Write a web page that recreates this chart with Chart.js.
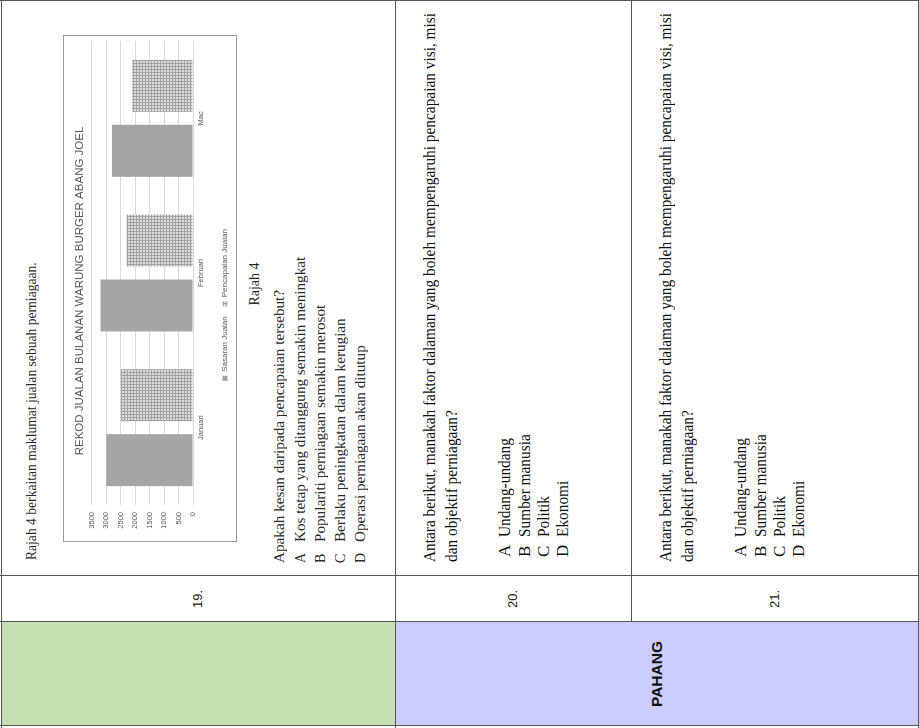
<!DOCTYPE html>
<html>
<head>
<meta charset="utf-8">
<script src="https://cdn.jsdelivr.net/npm/chart.js@4.4.1/dist/chart.umd.min.js"></script>
<style>
html,body{margin:0;padding:0;background:#fff;overflow:hidden;width:919px;height:728px;}
#page{position:absolute;left:0;top:0;width:728px;height:919px;transform-origin:0 0;transform:translate(0,728px) rotate(-90deg);background:#fff;font-family:"Liberation Serif","Times New Roman",serif;color:#1c1c1c;}
.box{position:absolute;box-sizing:border-box;}
.hl{position:absolute;height:1px;background:#555;}
.vl{position:absolute;width:1px;background:#555;}
.t{position:absolute;white-space:nowrap;line-height:20px;height:20px;transform-origin:0 50%;}
.q19{font-size:14px;color:#2a2a2a;}
.q2x{font-size:17px;color:#111;}
.num{position:absolute;left:106px;width:46px;text-align:center;font-family:"Liberation Sans",Arial,sans-serif;font-size:13px;line-height:18px;color:#222;}
#chartBox{position:absolute;left:186px;top:63px;width:507px;height:174px;box-sizing:border-box;border:1px solid #9a9a9a;background:#fff;}
#chartBox canvas{position:absolute;left:0;top:0;}
</style>
</head>
<body>
<div id="page">
  <!-- state column -->
  <div class="box" style="left:2px;top:1px;width:104px;height:394px;background:#c6e0b4;"></div>
  <div class="box" style="left:2px;top:395px;width:104px;height:523px;background:#ccccff;"></div>
  <div style="position:absolute;left:2px;width:104px;top:647px;text-align:center;font-family:'Liberation Sans',Arial,sans-serif;font-weight:bold;font-size:15.5px;line-height:20px;color:#111;">PAHANG</div>

  <!-- grid lines of the table -->
  <div class="hl" style="left:0;top:1px;width:728px;"></div>
  <div class="hl" style="left:0;top:395px;width:728px;"></div>
  <div class="hl" style="left:106px;top:631px;width:622px;"></div>
  <div class="hl" style="left:0;top:918px;width:728px;"></div>
  <div class="vl" style="left:2px;top:0;height:919px;"></div>
  <div class="vl" style="left:106px;top:0;height:919px;"></div>
  <div class="vl" style="left:152px;top:0;height:919px;"></div>
  <div class="vl" style="left:727px;top:0;height:919px;"></div>

  <!-- question numbers -->
  <div class="num" style="top:189px;">19.</div>
  <div class="num" style="top:504px;">20.</div>
  <div class="num" style="top:766px;">21.</div>

  <!-- Question 19 -->
  <div class="t q19" id="q19a" style="left:168px;top:22px;">Rajah 4 berkaitan maklumat jualan sebuah perniagaan.</div>
  <div id="chartBox"><canvas id="c" width="505" height="172"></canvas></div>
  <div class="t q19" style="left:344px;width:200px;text-align:center;top:245px;">Rajah 4</div>
  <div class="t q19" id="q19b" style="left:165px;top:270px;">Apakah kesan daripada pencapaian tersebut?</div>
  <div class="t q19" style="left:165px;top:291px;">A</div>
  <div class="t q19 o19" id="q19o" style="left:186px;top:291px;">Kos tetap yang ditanggung semakin meningkat</div>
  <div class="t q19" style="left:165px;top:311px;">B</div>
  <div class="t q19 o19" style="left:186px;top:311px;">Populariti perniagaan semakin merosot</div>
  <div class="t q19" style="left:165px;top:331px;">C</div>
  <div class="t q19 o19" style="left:186px;top:331px;">Berlaku peningkatan dalam kerugian</div>
  <div class="t q19" style="left:165px;top:351px;">D</div>
  <div class="t q19 o19" style="left:186px;top:351px;">Operasi perniagaan akan ditutup</div>

  <!-- Question 20 -->
  <div class="t q2x s20" id="q20a" style="left:166px;top:420px;">Antara berikut, manakah faktor dalaman yang boleh mempengaruhi pencapaian visi, misi</div>
  <div class="t q2x s20" style="left:166px;top:442px;">dan objektif perniagaan?</div>
  <div class="t q2x" style="left:171px;top:495px;">A</div>
  <div class="t q2x s20" style="left:191px;top:495px;">Undang-undang</div>
  <div class="t q2x" style="left:171px;top:515px;">B</div>
  <div class="t q2x s20" style="left:191px;top:515px;">Sumber manusia</div>
  <div class="t q2x" style="left:171px;top:534px;">C</div>
  <div class="t q2x s20" style="left:191px;top:534px;">Politik</div>
  <div class="t q2x" style="left:171px;top:553px;">D</div>
  <div class="t q2x s20" style="left:191px;top:553px;">Ekonomi</div>

  <!-- Question 21 -->
  <div class="t q2x s20" style="left:166px;top:656px;">Antara berikut, manakah faktor dalaman yang boleh mempengaruhi pencapaian visi, misi</div>
  <div class="t q2x s20" style="left:166px;top:678px;">dan objektif perniagaan?</div>
  <div class="t q2x" style="left:171px;top:731px;">A</div>
  <div class="t q2x s20" style="left:191px;top:731px;">Undang-undang</div>
  <div class="t q2x" style="left:171px;top:751px;">B</div>
  <div class="t q2x s20" style="left:191px;top:751px;">Sumber manusia</div>
  <div class="t q2x" style="left:171px;top:770px;">C</div>
  <div class="t q2x s20" style="left:191px;top:770px;">Politik</div>
  <div class="t q2x" style="left:171px;top:789px;">D</div>
  <div class="t q2x s20" style="left:191px;top:789px;">Ekonomi</div>
</div>

<script>
// ---- data ----
const categories = ['Januari', 'Februari', 'Mac'];
const sasaranJualan = [3000, 3200, 2800];
const pencapaianJualan = [2500, 2300, 2100];
const seriesNames = ['Sasaran Jualan', 'Pencapaian Jualan'];
const yTicks = [0, 500, 1000, 1500, 2000, 2500, 3000, 3500];
const chartTitle = 'REKOD JUALAN BULANAN WARUNG BURGER ABANG JOEL';

// ---- fit text widths to the scanned page ----
function fitGroup(refId, target, sel) {
  const ref = document.getElementById(refId);
  const s = target / ref.scrollWidth;
  const els = sel ? document.querySelectorAll(sel) : [ref];
  els.forEach(e => { e.style.transform = 'scaleX(' + s + ')'; });
}
fitGroup('q19a', 298);
fitGroup('q19b', 273);
fitGroup('q19o', 285, '.o19');
fitGroup('q20a', 549, '.s20');

// ---- chart ----
const canvas = document.getElementById('c');
const ctx = canvas.getContext('2d');
const pc = document.createElement('canvas');
pc.width = 3; pc.height = 3;
const g = pc.getContext('2d');
g.fillStyle = '#dcdcdc'; g.fillRect(0, 0, 3, 3);
g.fillStyle = '#a2a2a2'; g.fillRect(0, 0, 3, 1); g.fillRect(0, 0, 1, 3);
const hatch = ctx.createPattern(pc, 'repeat');

// legend sits slightly off-centre and a little lower in the original
const legendNudge = {
  id: 'legendNudge',
  afterLayout(chart) {
    const l = chart.legend;
    if (!l) return;
    l.left -= 14; l.right -= 14;
    l.top += 3; l.bottom += 3;
  }
};

Chart.defaults.font.family = '"Liberation Sans", Arial, sans-serif';
Chart.defaults.color = '#595959';

new Chart(ctx, {
  type: 'bar',
  data: {
    labels: categories,
    datasets: [
      { label: seriesNames[0], data: sasaranJualan, backgroundColor: '#a5a5a5', borderWidth: 0,
        categoryPercentage: 0.84, barPercentage: 0.8 },
      { label: seriesNames[1], data: pencapaianJualan, backgroundColor: hatch, borderWidth: 0,
        categoryPercentage: 0.84, barPercentage: 0.8 }
    ]
  },
  options: {
    responsive: false,
    animation: false,
    devicePixelRatio: 1,
    layout: { padding: { left: 0, right: 5, top: 0, bottom: 0 } },
    plugins: {
      title: { display: true, text: chartTitle, color: '#595959',
        font: { size: 11.5, weight: 'normal' }, padding: { top: 9, bottom: 5 } },
      legend: { position: 'bottom',
        labels: { boxWidth: 5, boxHeight: 5, font: { size: 8 }, color: '#595959', padding: 10 } },
      tooltip: { enabled: false }
    },
    scales: {
      x: {
        grid: { display: false, drawTicks: false },
        border: { display: false },
        ticks: { font: { size: 7.5 }, padding: 3, color: '#595959' }
      },
      y: {
        min: 0, max: 3500,
        afterBuildTicks: s => { s.ticks = yTicks.map(v => ({ value: v })); },
        afterFit: s => { s.width = 36; },
        grid: { color: '#d9d9d9', drawTicks: false, lineWidth: 1 },
        border: { display: false },
        ticks: { font: { size: 7.5 }, padding: 7, color: '#595959', callback: v => String(v) }
      }
    }
  },
  plugins: [legendNudge]
});
</script>
</body>
</html>
